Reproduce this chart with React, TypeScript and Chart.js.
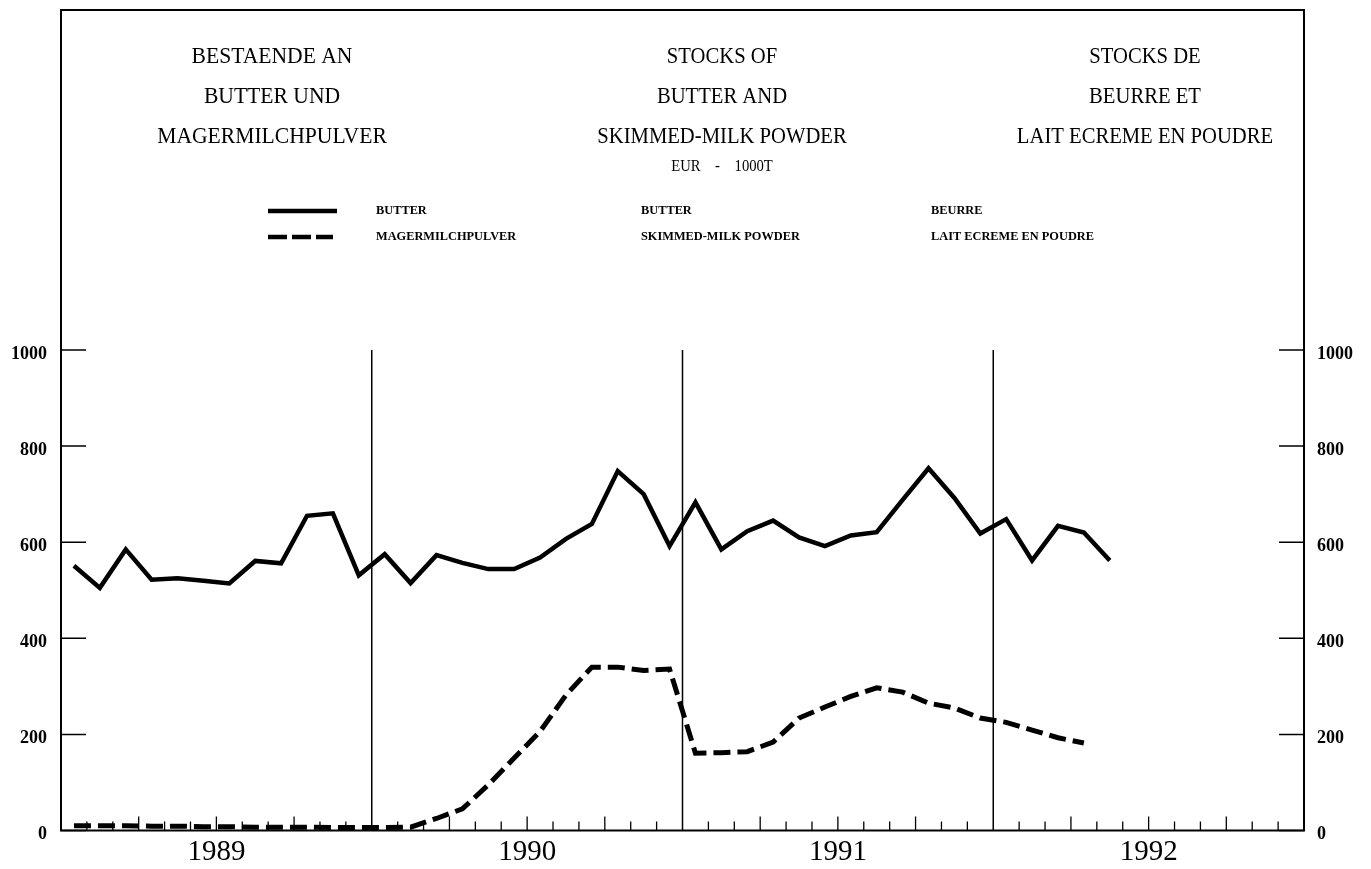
import React, { useEffect, useRef } from 'react';
import { Chart, registerables } from 'chart.js';

Chart.register(...registerables);

// ---- data ----
const yearLabels = ['1989', '1990', '1991', '1992'];
const monthNames = ['JAN', 'FEB', 'MAR', 'APR', 'MAY', 'JUN', 'JUL', 'AUG', 'SEP', 'OCT', 'NOV', 'DEC'];
const months = yearLabels.flatMap((y) => monthNames.map((m) => `${m} ${y}`));

// Butter stocks, 1000 t (Jan 1989 - May 1992)
const butter = [
  551, 505, 585, 522, 525, 520, 514, 561, 556, 655, 660, 531,
  575, 515, 573, 557, 544, 544, 568, 607, 638, 748, 700, 592,
  683, 585, 623, 645, 610, 592, 614, 621, 688, 754, 692, 618,
  648, 562, 634, 620, 562,
];

// Skimmed-milk powder stocks, 1000 t (Jan 1989 - Apr 1992)
const skimmedMilkPowder = [
  10, 10, 10, 9, 9, 8, 8, 7, 7, 7, 6, 6,
  6, 7, 25, 45, 95, 151, 206, 282, 340, 340, 333, 336,
  161, 162, 164, 184, 234, 257, 279, 297, 288, 265, 255, 234,
  225, 209, 193, 182,
];

const yTicks = [0, 200, 400, 600, 800, 1000];

const titleDE = ['BESTAENDE AN', 'BUTTER UND', 'MAGERMILCHPULVER'];
const titleEN = ['STOCKS OF', 'BUTTER AND', 'SKIMMED-MILK POWDER'];
const titleFR = ['STOCKS DE', 'BEURRE ET', 'LAIT ECREME EN POUDRE'];
const unitLabel = 'EUR    -    1000T';
const legendDE = ['BUTTER', 'MAGERMILCHPULVER'];
const legendEN = ['BUTTER', 'SKIMMED-MILK POWDER'];
const legendFR = ['BEURRE', 'LAIT ECREME EN POUDRE'];

const SERIF = '"Liberation Serif", "Times New Roman", serif';

function drawText(
  ctx: CanvasRenderingContext2D,
  text: string,
  x: number,
  y: number,
  font: string,
  align: CanvasTextAlign,
  sx: number
) {
  ctx.save();
  ctx.font = font;
  ctx.textAlign = align;
  ctx.textBaseline = 'middle';
  ctx.fillStyle = '#000';
  ctx.translate(x, y);
  ctx.scale(sx, 1);
  ctx.fillText(text, 0, 0);
  ctx.restore();
}

const decorPlugin = {
  id: 'decor',
  afterDraw(chart: any) {
    const ctx: CanvasRenderingContext2D = chart.ctx;
    const { left, right, bottom } = chart.chartArea;
    const xs = chart.scales.x;
    const ys = chart.scales.y;
    const frameTop = 10;
    ctx.save();
    ctx.strokeStyle = '#000';

    // frame
    ctx.lineWidth = 2;
    ctx.strokeRect(left, frameTop, right - left, bottom - frameTop);

    // inward y ticks, both sides
    ctx.lineWidth = 1.5;
    yTicks.forEach((v) => {
      const py = ys.getPixelForValue(v);
      ctx.beginPath();
      ctx.moveTo(left, py);
      ctx.lineTo(left + 25, py);
      ctx.moveTo(right - 25, py);
      ctx.lineTo(right, py);
      ctx.stroke();
    });

    // month ticks and year separators
    const topVal = ys.getPixelForValue(1000);
    for (let m = 1; m < months.length; m++) {
      const px = xs.getPixelForValue(m);
      ctx.beginPath();
      if (m % 12 === 0) {
        ctx.lineWidth = 1.5;
        ctx.moveTo(px, topVal);
        ctx.lineTo(px, bottom);
      } else {
        ctx.lineWidth = 1.3;
        const len = m % 3 === 0 ? 14 : 9;
        ctx.moveTo(px, bottom);
        ctx.lineTo(px, bottom - len);
      }
      ctx.stroke();
    }

    // titles
    const titleFont = `24px ${SERIF}`;
    const rows = [57, 97, 137];
    rows.forEach((ry, i) => {
      drawText(ctx, titleDE[i], 272, ry, titleFont, 'center', 0.9);
      drawText(ctx, titleEN[i], 722, ry, titleFont, 'center', 0.86);
      drawText(ctx, titleFR[i], 1145, ry, titleFont, 'center', 0.86);
    });
    drawText(ctx, unitLabel, 722, 167, `17px ${SERIF}`, 'center', 0.86);

    // legend
    const legRows = [211, 237];
    ctx.lineWidth = 4.5;
    ctx.beginPath();
    ctx.setLineDash([]);
    ctx.moveTo(268, legRows[0]);
    ctx.lineTo(337, legRows[0]);
    ctx.stroke();
    ctx.beginPath();
    ctx.setLineDash([19, 5]);
    ctx.moveTo(268, legRows[1]);
    ctx.lineTo(333, legRows[1]);
    ctx.stroke();
    ctx.setLineDash([]);
    const legFont = `bold 13px ${SERIF}`;
    legRows.forEach((ry, i) => {
      drawText(ctx, legendDE[i], 376, ry, legFont, 'left', 0.95);
      drawText(ctx, legendEN[i], 641, ry, legFont, 'left', 0.95);
      drawText(ctx, legendFR[i], 931, ry, legFont, 'left', 0.95);
    });

    ctx.restore();
  },
};

export default function App() {
  const canvasRef = useRef<HTMLCanvasElement | null>(null);

  useEffect(() => {
    document.body.style.margin = '0';
    document.body.style.overflow = 'hidden';
    const canvas = canvasRef.current;
    if (!canvas) return;

    const yTickFont = { family: SERIF, size: 18, weight: 'bold' as const };
    const plainNumber = (value: any) => String(value);

    const chart = new Chart(canvas, {
      type: 'line',
      data: {
        datasets: [
          {
            label: 'BUTTER',
            data: butter.map((v, i) => ({ x: i + 0.5, y: v, month: months[i] })),
            borderColor: '#000',
            backgroundColor: '#000',
            borderWidth: 4.5,
            pointRadius: 0,
            tension: 0,
            fill: false,
            yAxisID: 'y',
          },
          {
            label: 'MAGERMILCHPULVER',
            data: skimmedMilkPowder.map((v, i) => ({ x: i + 0.5, y: v, month: months[i] })),
            borderColor: '#000',
            backgroundColor: '#000',
            borderWidth: 5,
            borderDash: [17, 7],
            pointRadius: 0,
            tension: 0,
            fill: false,
            yAxisID: 'y',
          },
        ],
      },
      options: {
        responsive: false,
        animation: false,
        layout: { padding: { top: 350, left: 0, right: 0, bottom: 0 } },
        plugins: {
          legend: { display: false },
          tooltip: { enabled: false },
          title: { display: false },
        },
        scales: {
          x: {
            type: 'linear',
            position: 'bottom',
            min: 0,
            max: months.length,
            grid: { display: false, drawTicks: false },
            border: { display: false },
            afterBuildTicks: (scale: any) => {
              scale.ticks = yearLabels.map((_, i) => ({ value: i * 12 + 6 }));
            },
            afterFit: (scale: any) => {
              scale.height = 38.5;
            },
            ticks: {
              autoSkip: false,
              maxRotation: 0,
              padding: 4,
              color: '#000',
              font: { family: SERIF, size: 29 },
              callback: (value: any) => yearLabels[Math.floor(Number(value) / 12)] ?? '',
            },
          },
          y: {
            type: 'linear',
            position: 'left',
            min: 0,
            max: 1000,
            grid: { display: false, drawTicks: false },
            border: { display: false },
            afterBuildTicks: (scale: any) => {
              scale.ticks = yTicks.map((v) => ({ value: v }));
            },
            afterFit: (scale: any) => {
              scale.width = 61;
            },
            ticks: {
              padding: 14,
              labelOffset: 4,
              color: '#000',
              font: yTickFont,
              callback: plainNumber,
            },
          },
          y2: {
            type: 'linear',
            position: 'right',
            min: 0,
            max: 1000,
            grid: { display: false, drawTicks: false },
            border: { display: false },
            afterBuildTicks: (scale: any) => {
              scale.ticks = yTicks.map((v) => ({ value: v }));
            },
            afterFit: (scale: any) => {
              scale.width = 67;
            },
            ticks: {
              padding: 13,
              labelOffset: 4,
              color: '#000',
              font: yTickFont,
              callback: plainNumber,
            },
          },
        },
      },
      plugins: [decorPlugin],
    } as any);

    return () => {
      chart.destroy();
    };
  }, []);

  return (
    <div style={{ width: 1371, height: 869, background: '#fff' }}>
      <canvas ref={canvasRef} width={1371} height={869} style={{ display: 'block' }} />
    </div>
  );
}
